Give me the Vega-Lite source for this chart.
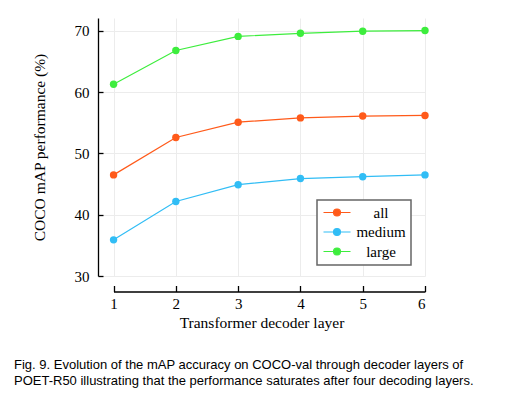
{
  "$schema": "https://vega.github.io/schema/vega-lite/v6.json",
  "width": 327,
  "height": 258,
  "autosize": {"type": "none"},
  "padding": {"left": 98, "top": 18, "right": 94, "bottom": 117},
  "background": "white",
  "title": {
    "text": ["Fig. 9.  Evolution of the mAP accuracy on COCO-val through decoder layers of", "POET-R50 illustrating that the performance saturates after four decoding layers."],
    "orient": "bottom",
    "anchor": "start",
    "frame": "group",
    "dx": -84,
    "offset": 28,
    "font": "Liberation Sans",
    "fontSize": 13,
    "fontWeight": "normal",
    "color": "#000000",
    "lineHeight": 15.5
  },
  "data": {
    "values": [
      {"layer": 1, "series": "all", "map": 46.5},
      {"layer": 2, "series": "all", "map": 52.6},
      {"layer": 3, "series": "all", "map": 55.1},
      {"layer": 4, "series": "all", "map": 55.8},
      {"layer": 5, "series": "all", "map": 56.1},
      {"layer": 6, "series": "all", "map": 56.2},
      {"layer": 1, "series": "medium", "map": 35.9},
      {"layer": 2, "series": "medium", "map": 42.15},
      {"layer": 3, "series": "medium", "map": 44.9},
      {"layer": 4, "series": "medium", "map": 45.9},
      {"layer": 5, "series": "medium", "map": 46.2},
      {"layer": 6, "series": "medium", "map": 46.5},
      {"layer": 1, "series": "large", "map": 61.3},
      {"layer": 2, "series": "large", "map": 66.8},
      {"layer": 3, "series": "large", "map": 69.1},
      {"layer": 4, "series": "large", "map": 69.6},
      {"layer": 5, "series": "large", "map": 69.95},
      {"layer": 6, "series": "large", "map": 70.05}
    ]
  },
  "mark": {"type": "line", "strokeWidth": 1.2, "point": {"filled": true, "size": 55, "opacity": 1}},
  "encoding": {
    "x": {
      "field": "layer",
      "type": "quantitative",
      "scale": {"domain": [0.75, 6], "nice": false, "zero": false},
      "axis": {
        "title": "Transformer decoder layer",
        "values": [1, 2, 3, 4, 5, 6],
        "format": "d",
        "offset": 15.5,
        "domainColor": "#000000",
        "domainWidth": 1.3,
        "domainDash": [0, 15.5, 400, 0],
        "tickColor": "#000000",
        "tickWidth": 1.3,
        "tickSize": -6,
        "labelPadding": 11,
        "labelFont": "Liberation Serif",
        "labelFontSize": 15,
        "labelColor": "#000000",
        "titleFont": "Liberation Serif",
        "titleFontSize": 15.5,
        "titleFontWeight": "normal",
        "titleColor": "#000000",
        "titlePadding": 4,
        "titleDx": 8,
        "grid": true,
        "gridColor": "#ececec",
        "gridWidth": 1
      }
    },
    "y": {
      "field": "map",
      "type": "quantitative",
      "scale": {"domain": [30, 72.1], "nice": false, "zero": false},
      "axis": {
        "title": "COCO mAP performance (%)",
        "values": [30, 40, 50, 60, 70],
        "domainColor": "#000000",
        "domainWidth": 1.3,
        "tickColor": "#000000",
        "tickWidth": 1.3,
        "tickSize": -5,
        "labelPadding": 14,
        "labelFont": "Liberation Serif",
        "labelFontSize": 15,
        "labelColor": "#000000",
        "titleFont": "Liberation Serif",
        "titleFontSize": 15.5,
        "titleFontWeight": "normal",
        "titleColor": "#000000",
        "titlePadding": 27,
        "grid": true,
        "gridColor": "#ececec",
        "gridWidth": 1
      }
    },
    "color": {
      "field": "series",
      "type": "nominal",
      "sort": ["all", "medium", "large"],
      "scale": {"domain": ["all", "medium", "large"], "range": ["#ff5a1a", "#31bdf5", "#3ded3d"]},
      "legend": {
        "title": null,
        "orient": "none",
        "legendX": 219,
        "legendY": 182,
        "padding": 5,
        "strokeColor": "#666666",
        "fillColor": "#ffffff",
        "symbolType": "M-1,0L3.5,0M0.67,0A0.58,0.58,0,1,1,1.83,0A0.58,0.58,0,1,1,0.67,0Z",
        "symbolSize": 144,
        "symbolStrokeWidth": 1.2,
        "labelFont": "Liberation Serif",
        "labelFontSize": 15,
        "labelColor": "#000000",
        "labelAlign": "left",
        "labelOffset": 18,
        "rowPadding": 3.5,
        "encode": {
          "symbols": {"update": {"fill": {"scale": "color", "field": "value"}, "stroke": {"scale": "color", "field": "value"}, "opacity": {"value": 1}}},
          "labels": {"update": {"align": {"value": "center"}, "dx": {"value": 26}}},
          "legend": {"update": {"strokeWidth": {"value": 1.5}}}
        }
      }
    }
  },
  "config": {
    "view": {"stroke": null}
  }
}
